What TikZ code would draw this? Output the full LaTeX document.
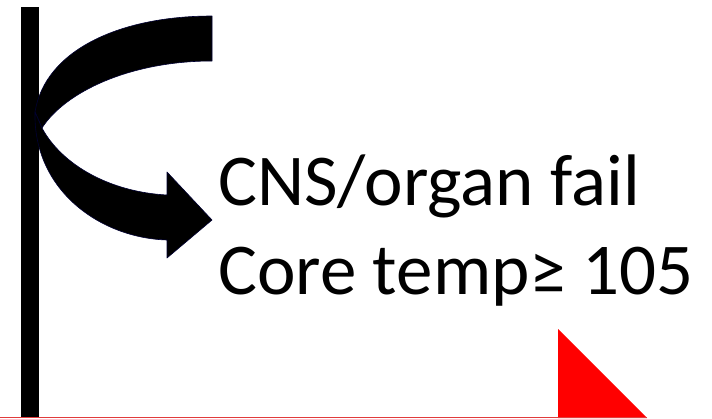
\documentclass[tikz,border=0pt]{standalone}
\usepackage{fontspec}
\setmainfont{Carlito}
\begin{document}
\begin{tikzpicture}[x=1pt,y=-1pt,
  lbl/.style={anchor=base west,inner sep=0pt,font=\fontsize{73}{88}\selectfont},
  arrowshape/.style={fill=black,draw=black!80!blue,line width=0.6pt,line join=round}]
\useasboundingbox (0,0) rectangle (712,418);
\fill[white] (0,0) rectangle (712,418);
% vertical bar
\fill[black] (21,7) rectangle (39,418);
% red triangle and bottom line
\fill[red] (558,329) -- (558,418) -- (647,418) -- cycle;
\draw[draw={rgb,255:red,225;green,60;blue,60},line width=1pt] (0,417.5) -- (647,417.5);
% curved arrow: upper band
\path[arrowshape] (212,16) .. controls (120,16) and (45,50) .. (35,112)
  -- (42,128) .. controls (65,92) and (130,61) .. (212,61) -- cycle;
% lower band with head
\path[arrowshape] (35,112) .. controls (33,190) and (100,238) .. (167,240)
  -- (167,258) -- (212,220) -- (167,172) -- (167,195)
  .. controls (110,192) and (62,165) .. (42,128) -- cycle;
% texts
\node[lbl] (t1) at (218,205) {CNS/organ fail};
\node[lbl] (t2) at (218,294) {Core temp≥ 105};
\end{tikzpicture}
\end{document}
